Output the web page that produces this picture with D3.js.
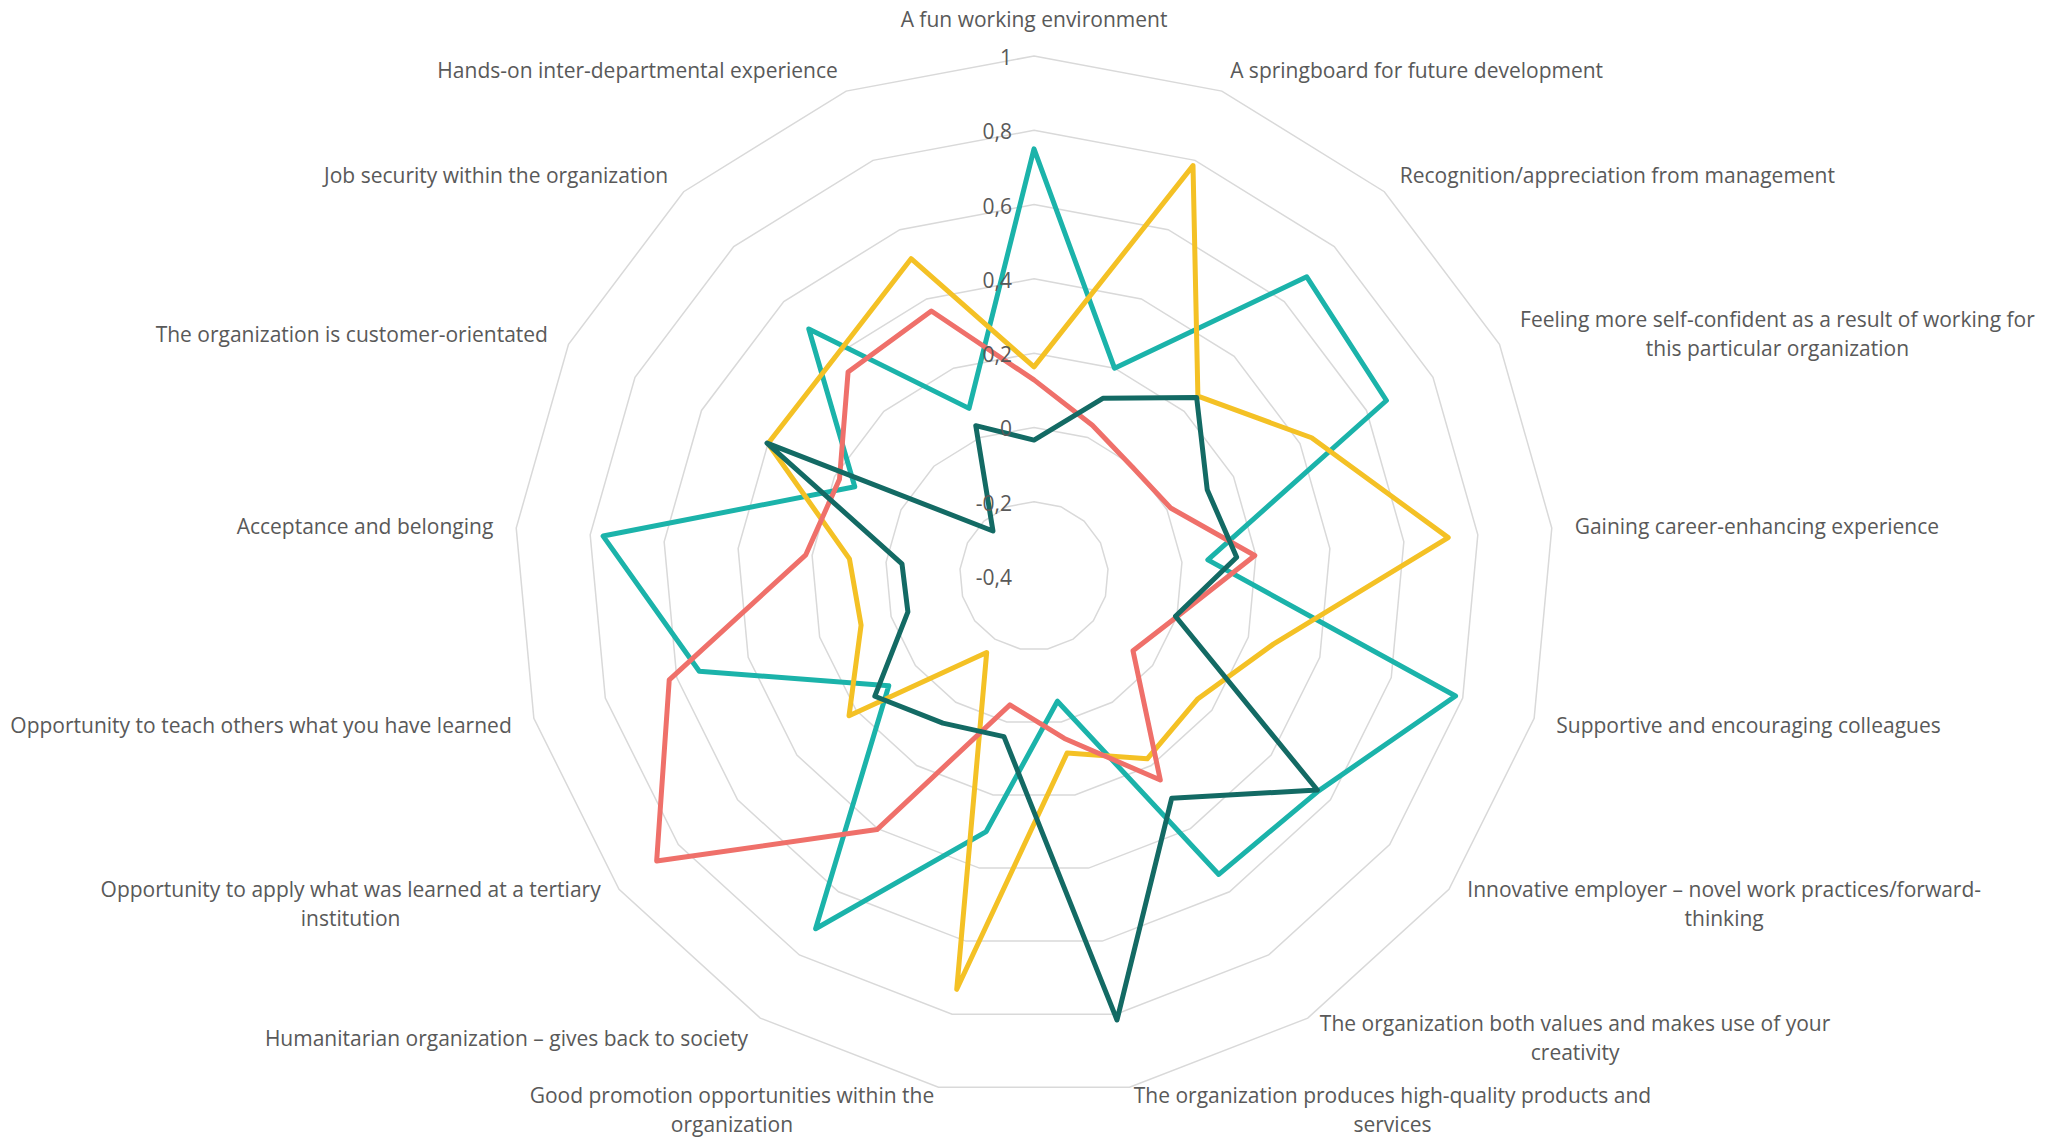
<!DOCTYPE html>
<html>
<head>
<meta charset="utf-8">
<script src="https://cdn.jsdelivr.net/npm/d3@7/dist/d3.min.js"></script>
<style>
  body { margin: 0; background: #fff; }
  text { font-family: "Open Sans", sans-serif; fill: #595959; }
</style>
</head>
<body>
<div id="chart"></div>
<script>
// axis labels, clockwise from the top ("\n" = where the label wraps)
var categories = [
  "A fun working environment",
  "A springboard for future development",
  "Recognition/appreciation from management",
  "Feeling more self-confident as a result of working for\nthis particular organization",
  "Gaining career-enhancing experience",
  "Supportive and encouraging colleagues",
  "Innovative employer \u2013 novel work practices/forward-\nthinking",
  "The organization both values and makes use of your\ncreativity",
  "The organization produces high-quality products and\nservices",
  "Good promotion opportunities within the\norganization",
  "Humanitarian organization \u2013 gives back to society",
  "Opportunity to apply what was learned at a tertiary\ninstitution",
  "Opportunity to teach others what you have learned",
  "Acceptance and belonging",
  "The organization is customer-orientated",
  "Job security within the organization",
  "Hands-on inter-departmental experience"
];

var tickValues = [-0.4, -0.2, 0, 0.2, 0.4, 0.6, 0.8, 1];
var tickLabels = ["-0,4", "-0,2", "0", "0,2", "0,4", "0,6", "0,8", "1"];

var tealValues   = [0.75, 0.20, 0.69, 0.66, 0.07, 0.78, 0.56, 0.545, -0.057, 0.30, 0.717, 0.09, 0.537, 0.765, 0.139, 0.50, 0.084];
var yellowValues = [0.163, 0.785, 0.255, 0.435, 0.72, 0.27, 0.151, 0.179, 0.085, 0.732, -0.158, 0.224, 0.084, 0.099, 0.40, 0.396, 0.516];
var redValues    = [0.128, 0.035, -0.005, 0.011, 0.197, 0.0, -0.066, 0.246, 0.045, -0.047, 0.403, 0.873, 0.621, 0.217, 0.185, 0.343, 0.365];
var darkValues   = [-0.034, 0.113, 0.25, 0.121, 0.148, -0.004, 0.556, 0.304, 0.816, 0.04, 0.066, 0.137, -0.047, -0.043, 0.403, -0.236, 0.034];

var series = [
  {values: tealValues,   color: '#1bb3aa'},
  {values: yellowValues, color: '#f4c125'},
  {values: redValues,    color: '#ef706a'},
  {values: darkValues,   color: '#136a64'}
];

var width = 2054, height = 1137,
    cx = 1034, cy = 576,
    radius = 520,
    step = 2 * Math.PI / categories.length;

var r = d3.scaleLinear().domain([-0.4, 1]).range([0, radius]);

var svg = d3.select('#chart').append('svg')
    .attr('width', width)
    .attr('height', height);

var g = svg.append('g').attr('transform', 'translate(' + cx + ',' + cy + ')');

// rings
var ring = d3.lineRadial()
    .angle(function(d, i){ return i * step; })
    .radius(function(d){ return r(d); })
    .curve(d3.curveLinearClosed);

g.selectAll('.ring')
    .data(tickValues.slice(1))
  .enter().append('path')
    .attr('class', 'ring')
    .attr('d', function(v){ return ring(categories.map(function(){ return v; })); })
    .attr('fill', 'none')
    .attr('stroke', '#d9d9d9')
    .attr('stroke-width', 1.5);

// series
g.selectAll('.series')
    .data(series)
  .enter().append('path')
    .attr('class', 'series')
    .attr('d', function(d){ return ring(d.values); })
    .attr('fill', 'none')
    .attr('stroke', function(d){ return d.color; })
    .attr('stroke-width', 5)
    .attr('stroke-linejoin', 'round');

// tick labels
g.selectAll('.tick')
    .data(tickValues)
  .enter().append('text')
    .attr('class', 'tick')
    .attr('x', -22)
    .attr('y', function(v){ return -r(v) + 1; })
    .attr('text-anchor', 'end')
    .attr('dominant-baseline', 'central')
    .attr('font-size', 21)
    .text(function(v, i){ return tickLabels[i]; });

// category labels
var lineH = 29, pad = 23;
categories.forEach(function(cat, i){
  var a = i * step,
      s = Math.sin(a), c = Math.cos(a),
      ax = (radius + pad) * s,
      ay = -(radius + pad) * c;

  var lines = cat.split('\n');
  var label = g.append('text')
      .attr('class', 'cat')
      .attr('font-size', 21)
      .attr('text-anchor', 'middle')
      .attr('dominant-baseline', 'central');

  var spans = lines.map(function(ln){ return label.append('tspan').text(ln); });
  var blockW = d3.max(spans, function(sp){ return sp.node().getComputedTextLength(); });
  var blockH = lines.length * lineH;

  var left;
  if (Math.abs(s) < 0.01) left = ax - blockW / 2;
  else if (s > 0) left = ax;
  else left = ax - blockW;

  var top = (c > 0.99) ? ay - blockH : ay - blockH / 2;

  spans.forEach(function(sp, k){
    sp.attr('x', left + blockW / 2)
      .attr('y', top + lineH * (k + 0.5));
  });
});
</script>
</body>
</html>
